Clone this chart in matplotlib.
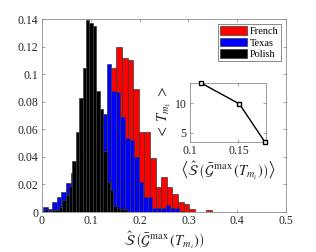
import numpy as np
import matplotlib
matplotlib.use("Agg")
import matplotlib.pyplot as plt
from matplotlib.patches import Patch

# ---- data ----
black_start, black_width = 0.0062, 0.007
black_heights = [0.002, 0.001, 0.0015, 0.0015, 0.0036, 0.0087, 0.0125, 0.019,
                 0.037, 0.058, 0.083, 0.1045, 0.139, 0.137, 0.135, 0.088,
                 0.075, 0.044, 0.022, 0.016, 0.004, 0.003, 0.002, 0.002, 0.001]

blue_start, blue_width = 0.0027, 0.0093
blue_heights = [0.0039, 0.002, 0.007, 0.011, 0.0147, 0.0208, 0.028, 0.035,
                0.042, 0.050, 0.058, 0.064, 0.068, 0.071, 0.107, 0.088,
                0.0867, 0.069, 0.054, 0.052, 0.040, 0.022, 0.011, 0.011,
                0.003, 0.003, 0.003, 0.005, 0.003, 0.003, 0.001]

red_start, red_width = 0.0603, 0.0115
red_heights = [0.005, 0.012, 0.025, 0.040, 0.055, 0.062, 0.068,
               0.1045, 0.1195, 0.1117, 0.1105, 0.0894, 0.058, 0.058, 0.039,
               0.018, 0.0257, 0.018, 0.013, 0.0075, 0.0058, 0.002, 0.0, 0.0,
               0.0015]

inset_x = [0.111, 0.151, 0.177]
inset_y = [13.5, 9.9, 3.5]

series_names = ["French", "Texas", "Polish"]
series_colors = ["#ff0000", "#0000ff", "#000000"]

xticks = [0, 0.1, 0.2, 0.3, 0.4, 0.5]
xticklabels = ["0", "0.1", "0.2", "0.3", "0.4", "0.5"]
yticks = [0, 0.02, 0.04, 0.06, 0.08, 0.1, 0.12, 0.14]
yticklabels = ["0", "0.02", "0.04", "0.06", "0.08", "0.1", "0.12", "0.14"]
inset_xticks = [0.1, 0.15]
inset_xticklabels = ["0.1", "0.15"]
inset_yticks = [5, 10]
inset_yticklabels = ["5", "10"]

plt.rcParams["font.family"] = ["Liberation Serif", "DejaVu Serif"]
plt.rcParams["mathtext.fontset"] = "stix"

fig = plt.figure(figsize=(3.16, 2.52), dpi=100)
ax = fig.add_axes([0.1329, 0.1587, 0.7722, 0.7659])

edge = "#3a3a3a"
for heights, start, width, color, z in [
        (red_heights, red_start, red_width, series_colors[0], 2),
        (blue_heights, blue_start, blue_width, series_colors[1], 3),
        (black_heights, black_start, black_width, series_colors[2], 4)]:
    lefts = start + width * np.arange(len(heights))
    ax.bar(lefts, heights, width=width, align="edge", color=color,
           edgecolor=edge, linewidth=0.5, zorder=z)

ax.set_xlim(0, 0.5)
ax.set_ylim(0, 0.14)
ax.set_xticks(xticks)
ax.set_xticklabels(xticklabels)
ax.set_yticks(yticks)
ax.set_yticklabels(yticklabels)
ax.tick_params(direction="in", top=True, right=True, labelsize=8.5,
               length=2.5, width=0.5, colors="#808080", labelcolor="#262626",
               pad=2.5)
for s in ax.spines.values():
    s.set_color("#8a8a8a")
    s.set_linewidth(0.6)
ax.set_xlabel(r"$\hat{\mathcal{S}}\,\left(\bar{\mathcal{G}}^{\max}\,\left(T_{m_i}\right)\right)$",
              fontsize=10.5, labelpad=1, color="#262626")

handles = [Patch(facecolor=c, edgecolor=edge, linewidth=0.5) for c in series_colors]
leg = ax.legend(handles, series_names, loc="upper right", fontsize=7.5,
                frameon=True, fancybox=False, edgecolor="#555555",
                handlelength=2.6, handleheight=0.9, handletextpad=0.25,
                labelspacing=0.15, borderpad=0.2, borderaxespad=0.5)
leg.get_frame().set_linewidth(0.6)

ins = fig.add_axes([0.601, 0.4377, 0.2396, 0.234])
ins.plot(inset_x, inset_y, color="black", linewidth=1.0, marker="s",
         markersize=3.5, markerfacecolor="white", markeredgecolor="black",
         markeredgewidth=1.0, clip_on=False, zorder=5)
ins.set_xlim(0.1, 0.178)
ins.set_ylim(3.5, 13.5)
ins.set_xticks(inset_xticks)
ins.set_xticklabels(inset_xticklabels)
ins.set_yticks(inset_yticks)
ins.set_yticklabels(inset_yticklabels)
ins.tick_params(direction="in", top=True, right=True, labelsize=8.5,
                length=2, width=0.5, colors="#808080", labelcolor="#262626",
                pad=2.5)
for s in ins.spines.values():
    s.set_color("#8a8a8a")
    s.set_linewidth(0.6)
ins.set_xlabel(r"$\left\langle \hat{\mathcal{S}}\,\left(\bar{\mathcal{G}}^{\max}\,\left(T_{m_i}\right)\right)\right\rangle$",
               fontsize=10.5, labelpad=1, color="#262626")
ins.set_ylabel(r"$<\;T_{m_1}\;>$", fontsize=10.5, labelpad=1, color="#262626")

fig.savefig("out.png", dpi=100)
